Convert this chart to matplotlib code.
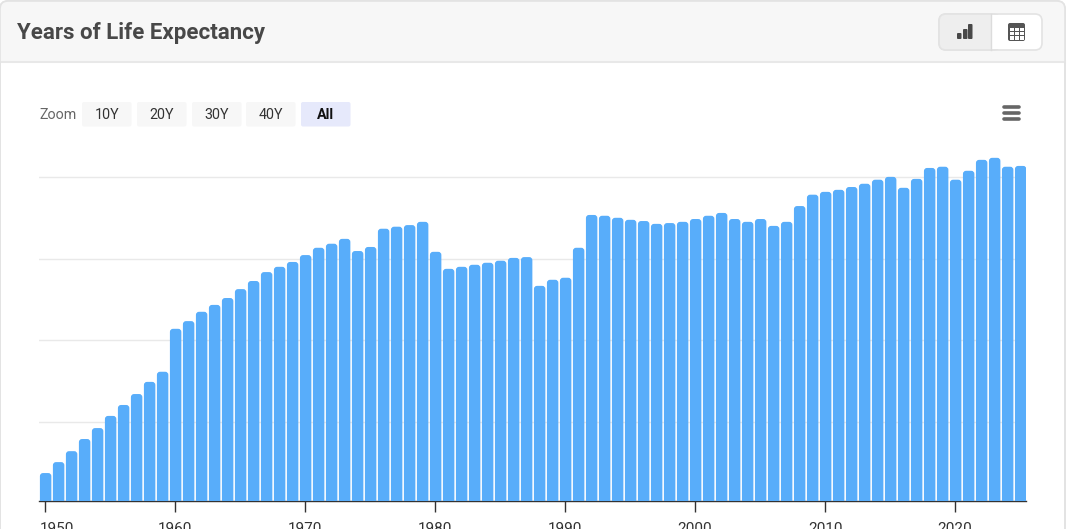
import numpy as np
import matplotlib
matplotlib.use('Agg')
import matplotlib.pyplot as plt
from matplotlib.patches import FancyBboxPatch, Rectangle
from matplotlib.transforms import ScaledTranslation

plt.rcParams['font.family'] = ['Roboto', 'DejaVu Sans']

# nothing on the y axis is labelled in the picture, values are on a 0-80 grid
years = list(range(1950, 2026))
values = [
    6.9, 9.6, 12.3, 15.3, 18.0, 21.0, 23.7, 26.4, 29.4, 31.9,
    42.5, 44.4, 46.7, 48.4, 50.1, 52.3, 54.3, 56.5, 57.8, 59.0,
    60.7, 62.5, 63.5, 64.7, 61.7, 62.7, 67.2, 67.7, 68.1, 68.9,
    61.5, 57.3, 57.8, 58.3, 58.8, 59.3, 60.0, 60.2, 53.1, 54.6,
    55.1, 62.5, 70.6, 70.4, 69.9, 69.4, 69.1, 68.4, 68.6, 68.9,
    69.6, 70.4, 71.1, 69.6, 68.9, 69.6, 67.9, 68.9, 72.8, 75.6,
    76.3, 76.8, 77.5, 78.3, 79.3, 80.0, 77.3, 79.5, 82.2, 82.5,
    79.3, 81.5, 84.2, 84.7, 82.5, 82.7,
]
grid_values = [19.6, 39.7, 59.8, 79.9]
tick_years = [1950, 1960, 1970, 1980, 1990, 2000, 2010, 2020]
zoom_labels = ['10Y', '20Y', '30Y', '40Y', 'All']

W, H = 1084, 529
fig = plt.figure(figsize=(W / 100, H / 100), dpi=100, facecolor='white')

# page furniture, in pixel coordinates
bg = fig.add_axes([0, 0, 1, 1], zorder=0)
bg.set_xlim(0, W)
bg.set_ylim(H, 0)
bg.axis('off')


def rbox(x0, y0, x1, y1, r, fc, ec='none', lw=0, ax=bg, **kw):
    p = FancyBboxPatch((x0 + r, y0 + r), x1 - x0 - 2 * r, y1 - y0 - 2 * r,
                       boxstyle='round,pad=%g,rounding_size=%g' % (r, r),
                       fc=fc, ec=ec, lw=lw, **kw)
    ax.add_patch(p)
    return p


# card
rbox(0, 1, 1065, 600, 8, '#ffffff', '#e3e3e3', 1.2)
head = rbox(0, 1, 1065, 90, 8, '#f7f7f7', '#e3e3e3', 1.2)
bg.add_patch(Rectangle((0.6, 62), 1063.8, 40, fc='white', ec='none'))
bg.plot([0, 1065], [62, 62], color='#e8e8e8', lw=1.5)
bg.plot([0.3, 0.3], [62, 529], color='#e3e3e3', lw=1.2)
bg.plot([1065, 1065], [62, 529], color='#e3e3e3', lw=1.2)
bg.text(17, 38.7, 'Years of Life Expectancy', fontsize=16, fontweight='bold',
        color='#484848', va='baseline', ha='left')

# chart / table toggle
rbox(939, 14, 1042, 50, 7, '#ffffff', '#e3e3e3', 1.2)
left = rbox(939, 14, 1000, 50, 7, '#eeeeee', '#e3e3e3', 1.2)
bg.add_patch(Rectangle((991, 14.6), 12, 34.8, fc='white', ec='none'))
bg.plot([990.5, 990.5], [14, 50], color='#dcdcdc', lw=1)
for x0, y0 in [(957, 33), (963, 29), (968, 24)]:
    rbox(x0, y0, x0 + 4.5, 39, 1, '#484848')
rbox(1008, 23, 1025, 41, 2, '#555555')
for cx in [1009.5, 1014.6, 1019.6]:
    for cy in [28, 32.2, 36.4]:
        bg.add_patch(Rectangle((cx, cy), 4, 3.2, fc='white', ec='none'))

# zoom buttons
bg.text(39, 114.8, 'Zoom', fontsize=10.3, color='#666666', va='center', ha='left')
for lab, x0 in zip(zoom_labels, [82, 137, 192, 246, 301]):
    active = lab == 'All'
    rbox(x0, 102, x0 + 49.5, 126.5, 2, '#e6e9fb' if active else '#f7f7f7')
    bg.text(x0 + 24.7, 114.8, lab, fontsize=10.3, color='#111111' if active else '#333333',
            fontweight='bold' if active else 'normal', va='center', ha='center')

# hamburger menu
for yy in [106.5, 113, 118.5]:
    bg.plot([1003.5, 1019], [yy, yy], color='#666666', lw=2.6, solid_capstyle='round')

# the bars
ax = fig.add_axes([39 / W, (H - 501) / H, (1026 - 39) / W, (501 - 140) / H], zorder=1)
ax.patch.set_alpha(0)
ax.set_xlim(1949.54, 2025.46)
ax.set_ylim(0, 89.1)
ax.set_axisbelow(True)
ax.set_yticks(grid_values)
ax.yaxis.grid(True, color='#e9e9e9', lw=1)
ax.tick_params(axis='y', length=0, labelleft=False)
for s in ['top', 'left', 'right']:
    ax.spines[s].set_visible(False)
ax.spines['bottom'].set_color('#333333')
ax.spines['bottom'].set_linewidth(1)

bar_w = 0.88
bar_shift = 0.05  # bars sit a little right of their ticks
round_x = 0.24
for yr, val in zip(years, values):
    p = FancyBboxPatch((yr + bar_shift - bar_w / 2 + round_x, -5), bar_w - 2 * round_x, val + 5 - round_x * 3.2,
                       boxstyle='round,pad=%g,rounding_size=%g' % (round_x, round_x),
                       mutation_aspect=3.2, fc='#58adfa', ec='none', zorder=3)
    ax.add_patch(p)

ax.set_xticks(tick_years)
ax.set_xticklabels([str(y) for y in tick_years], fontsize=11, color='#333333')
ax.tick_params(axis='x', length=8, width=1, color='#333333', pad=7.2)
# first label is pushed right so it stays inside the plot
first = ax.get_xticklabels()[0]
first.set_transform(first.get_transform() + ScaledTranslation(12 / 100, 0, fig.dpi_scale_trans))

fig.savefig('out.png', dpi=100)
